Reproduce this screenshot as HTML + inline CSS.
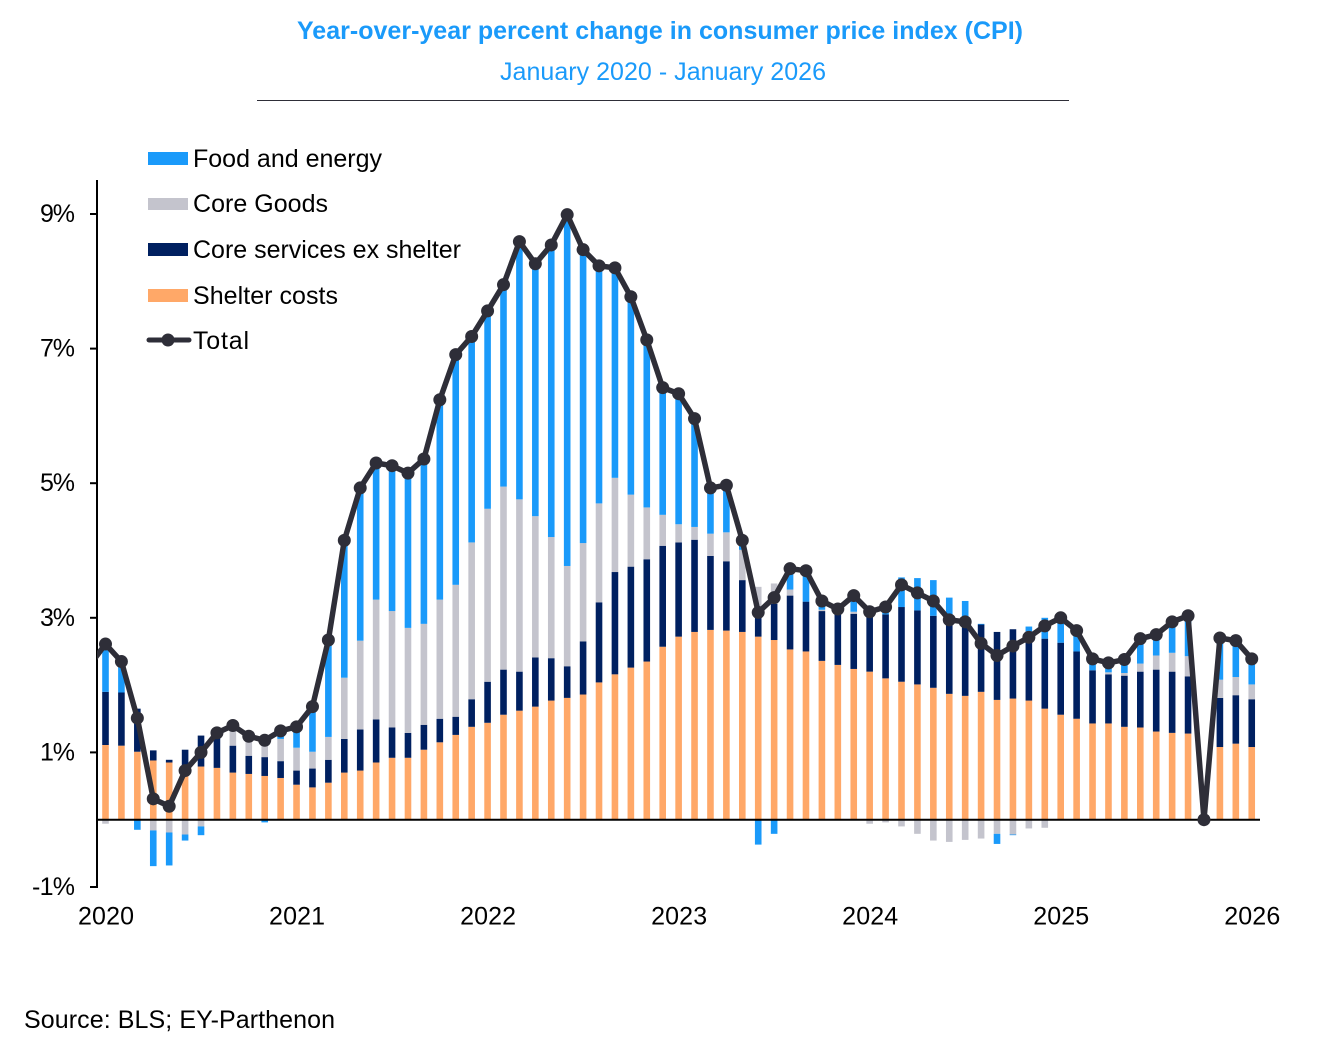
<!DOCTYPE html>
<html lang="en">
<head>
<meta charset="utf-8">
<title>Year-over-year percent change in consumer price index (CPI)</title>
<style>
html,body{margin:0;padding:0;background:#fff;}
svg{display:block;}
text{font-family:"Liberation Sans",Arial,sans-serif;fill:#000;}
</style>
</head>
<body>
<svg id="chart" xmlns="http://www.w3.org/2000/svg" width="1319" height="1064" viewBox="0 0 1319 1064">
  <defs>
    <clipPath id="plot-clip"><rect x="97" y="150" width="1200" height="760"/></clipPath>
  </defs>
  <text x="660" y="39" text-anchor="middle" font-size="25" font-weight="700" textLength="726" style="fill:#1A9AFA">Year-over-year percent change in consumer price index (CPI)</text>
  <text x="663" y="80" text-anchor="middle" font-size="25" textLength="326" style="fill:#1A9AFA">January 2020 - January 2026</text>
  <line x1="257" x2="1069" y1="100.5" y2="100.5" stroke="#2E2E38" stroke-width="1"/>

  <g id="bars"></g>
  <g id="axes"></g>
  <g id="line-layer"></g>

  <g>
    <g>
      <rect x="148" y="152" width="40" height="13" fill="#1A9AFA"/>
      <text x="193" y="167" font-size="25" textLength="189">Food and energy</text>
    </g>
    <g>
      <rect x="148" y="198" width="40" height="12" fill="#C4C4CD"/>
      <text x="193" y="212" font-size="25" textLength="135">Core Goods</text>
    </g>
    <g>
      <rect x="148" y="243" width="40" height="13" fill="#002060"/>
      <text x="193" y="258" font-size="25" textLength="268">Core services ex shelter</text>
    </g>
    <g>
      <rect x="148" y="289" width="40" height="13" fill="#FFA868"/>
      <text x="193" y="304" font-size="25" textLength="145">Shelter costs</text>
    </g>
    <g>
      <line x1="149" x2="189" y1="340" y2="340" stroke="#2E2E38" stroke-width="5" stroke-linecap="round"/>
      <circle cx="168" cy="340" r="6.5" fill="#2E2E38"/>
      <text x="193" y="349" font-size="25" textLength="56">Total</text>
    </g>
  </g>

  <text x="24" y="1028" font-size="25" textLength="311">Source: BLS; EY-Parthenon</text>
</svg>
<script>
const years = ["2020","2021","2022","2023","2024","2025","2026"];
const yTicks = [-1,1,3,5,7,9];
const shelter = [1.11,1.10,1.01,.88,.85,.67,.79,.77,.70,.68,.65,.62,.52,.48,.55,.70,.73,.85,.92,.92,1.04,1.15,1.26,1.38,1.44,1.56,1.62,1.68,1.77,1.81,1.86,2.04,2.16,2.26,2.35,2.57,2.72,2.79,2.82,2.81,2.79,2.72,2.67,2.53,2.50,2.36,2.30,2.24,2.20,2.10,2.05,2.01,1.96,1.87,1.84,1.90,1.78,1.80,1.77,1.65,1.56,1.50,1.43,1.43,1.38,1.37,1.31,1.29,1.28,0,1.08,1.13,1.08];
const services = [.79,.79,.64,.15,.04,.37,.46,.52,.40,.27,.28,.25,.21,.28,.34,.50,.61,.64,.45,.37,.37,.35,.27,.41,.61,.67,.58,.73,.63,.47,.79,1.19,1.52,1.50,1.52,1.50,1.40,1.37,1.10,1.03,.77,.44,.54,.80,.74,.74,.83,.82,.95,.95,1.11,1.10,1.07,1.10,1.03,1.00,1.01,1.03,1.03,1.04,1.07,1.00,.79,.73,.76,.83,.92,.91,.85,0,.73,.72,.71];
const goods = [-.06,0,0,-.16,-.19,-.22,-.10,0,.24,.23,.27,.33,.34,.25,.34,.91,1.32,1.78,1.73,1.56,1.50,1.77,1.96,2.33,2.57,2.72,2.56,2.10,1.80,1.49,1.46,1.47,1.40,1.07,.77,.46,.27,.19,.33,.43,.45,.30,.30,.09,0,.02,0,.03,-.06,-.04,-.10,-.21,-.31,-.33,-.30,-.28,-.21,-.22,-.13,-.12,0,0,0,.03,.04,.12,.21,.28,.30,0,.27,.27,.22];
const food = [.72,.43,-.15,-.53,-.49,-.09,-.13,0,.06,.06,-.04,.12,.31,.67,1.36,2.04,2.27,2.03,2.16,2.30,2.45,2.97,3.42,3.06,2.94,3.00,3.83,3.75,4.34,5.22,4.36,3.53,3.12,2.94,2.49,1.89,1.94,1.61,.68,.70,.14,-.37,-.21,.31,.46,.13,0,.24,0,.12,.44,.48,.53,.33,.38,.01,-.15,-.01,.07,.31,.37,.31,.17,.14,.20,.37,.31,.46,.60,0,.62,.54,.38];
const total = [2.61,2.35,1.51,.31,.20,.73,1.00,1.29,1.40,1.24,1.18,1.32,1.38,1.68,2.67,4.15,4.93,5.30,5.26,5.15,5.36,6.24,6.91,7.18,7.56,7.95,8.59,8.26,8.54,8.99,8.47,8.23,8.20,7.77,7.13,6.42,6.33,5.96,4.93,4.97,4.15,3.08,3.30,3.73,3.70,3.25,3.13,3.33,3.09,3.16,3.49,3.37,3.25,2.97,2.94,2.62,2.44,2.58,2.71,2.88,3.00,2.81,2.39,2.33,2.38,2.69,2.75,2.94,3.03,0,2.70,2.66,2.39];
const totalBeforeStart = 2.29;
const monthsPerYear = 12;

const NS = "http://www.w3.org/2000/svg";
const xScale = i => 105.5 + i * 15.92;
const yScale = v => 819.7 - v * 67.3;
const BAR_W = 6.6;

function mk(tag, attrs, parent) {
  const el = document.createElementNS(NS, tag);
  for (const k in attrs) el.setAttribute(k, attrs[k]);
  parent.appendChild(el);
  return el;
}

const barsG = document.getElementById("bars");
const seriesList = [
  { key: "shelter", values: shelter, color: "#FFA868" },
  { key: "services", values: services, color: "#002060" },
  { key: "goods", values: goods, color: "#C4C4CD" },
  { key: "food", values: food, color: "#1A9AFA" }
];
for (let i = 0; i < total.length; i++) {
  let up = 0, down = 0;
  for (const s of seriesList) {
    const v = s.values[i];
    if (!v) continue;
    const from = v > 0 ? up : down;
    const to = from + v;
    if (v > 0) up = to; else down = to;
    const r = mk("rect", {
      x: xScale(i) - BAR_W / 2,
      y: Math.min(yScale(from), yScale(to)),
      width: BAR_W,
      height: Math.abs(yScale(from) - yScale(to)),
      fill: s.color
    }, barsG);
    
    
  }
}

const axesG = document.getElementById("axes");
const yAxisLine = mk("line", { x1: 97, x2: 97, y1: 180, y2: yScale(-1) + 1, stroke: "#000", "stroke-width": 2 }, axesG);


const zeroLine = mk("line", { x1: 96, x2: 1260, y1: yScale(0), y2: yScale(0), stroke: "#000", "stroke-width": 2 }, axesG);


for (const t of yTicks) {
  const tick = mk("line", { x1: 90, x2: 97, y1: yScale(t), y2: yScale(t), stroke: "#000", "stroke-width": 2 }, axesG);
  
  
  const lab = mk("text", { x: 75, y: yScale(t) + 8, "text-anchor": "end", "font-size": 25, textLength: (String(t).length === 1 ? 35 : 43) }, axesG);
  lab.textContent = t + "%";
  
  
}
years.forEach((label, k) => {
  const lab = mk("text", { x: xScale(k * monthsPerYear) + 0.5, y: 924.5, "text-anchor": "middle", "font-size": 25, textLength: 56 }, axesG);
  lab.textContent = label;
  
  
});

const lineG = document.getElementById("line-layer");
let d = "M" + xScale(-1) + " " + yScale(totalBeforeStart);
total.forEach((v, i) => { d += " L" + xScale(i).toFixed(2) + " " + yScale(v).toFixed(2); });
const path = mk("path", { d: d, fill: "none", stroke: "#2E2E38", "stroke-width": 5.5, "stroke-linejoin": "round", "clip-path": "url(#plot-clip)" }, lineG);


total.forEach((v, i) => {
  const c = mk("circle", { cx: xScale(i), cy: yScale(v), r: 6.5, fill: "#2E2E38" }, lineG);
  
  
});
</script>
</body>
</html>
